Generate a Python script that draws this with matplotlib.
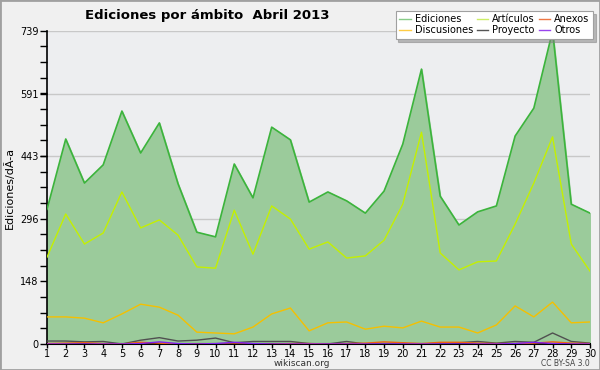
import numpy as np
from matplotlib import pyplot as plt
from matplotlib.ticker import AutoMinorLocator
from matplotlib.patches import Rectangle

days = list(range(1, 31))
ediciones = [318, 484, 380, 423, 550, 451, 522, 378, 264, 253, 425, 345, 512, 482, 335,
             359, 338, 309, 361, 472, 649, 349, 281, 312, 326, 491, 557, 739, 330, 309]
articulos = [205, 307, 236, 262, 359, 274, 293, 257, 182, 179, 316, 212, 326, 295, 224,
             241, 203, 208, 245, 330, 500, 215, 175, 194, 196, 283, 380, 489, 236, 172]
discusiones = [64, 64, 61, 50, 71, 94, 87, 68, 28, 26, 24, 40, 71, 85, 31,
               50, 52, 35, 42, 38, 54, 40, 40, 26, 45, 90, 64, 99, 50, 52]
proyecto = [7, 7, 5, 6, 0, 9, 15, 7, 9, 14, 3, 6, 6, 6, 1,
            0, 6, 0, 1, 1, 0, 2, 3, 6, 2, 6, 4, 26, 6, 2]
anexos = [1, 2, 3, 1, 0, 4, 2, 0, 0, 0, 0, 0, 0, 1, 1,
          0, 1, 2, 5, 3, 1, 4, 4, 2, 1, 1, 2, 5, 2, 1]
otros = [0, 0, 0, 0, 0, 1, 5, 1, 0, 1, 4, 1, 0, 0, 0,
         0, 0, 0, 0, 0, 0, 0, 0, 0, 0, 1, 4, 1, 0, 0]
yticks = [0, 148, 296, 443, 591, 739]

plt.rcParams['font.family'] = 'DejaVu Sans'
fig = plt.figure(figsize=(6, 3.7), dpi=100, facecolor="#f0f0f0")
fig.patches.append(Rectangle((0, 0), 1, 1, transform=fig.transFigure, fill=False,
                             edgecolor="#a0a0a0", linewidth=2))
ax = fig.add_axes([47 / 600, 26 / 370, 543 / 600, 313 / 370])
ax.set_facecolor("#edeef0")

ax.fill_between(days, ediciones, 0, color="#9bcb9b", zorder=2)
ax.plot(days, ediciones, color="#3cb43c", linewidth=1.2, zorder=3)
ax.plot(days, articulos, color="#c4f000", linewidth=1, zorder=3)
ax.plot(days, discusiones, color="#f5c000", linewidth=1, zorder=3)
ax.plot(days, proyecto, color="#505050", linewidth=1, zorder=3)
ax.plot(days, anexos, color="#f06010", linewidth=1, zorder=3)
ax.plot(days, otros, color="#8020f0", linewidth=1, zorder=3)

ax.set_xlim(1, 30)
ax.set_ylim(0, 739)
ax.set_xticks(days)
ax.set_yticks(yticks)
ax.yaxis.set_minor_locator(AutoMinorLocator(4))
ax.tick_params(axis="x", labelsize=7, length=3, width=1, pad=0.5)
ax.tick_params(axis="y", labelsize=7, length=5, width=1, pad=1)
ax.tick_params(axis="y", which="minor", length=5, width=1)
ax.grid(axis="y", color="#c8c8c8", linewidth=1, zorder=1)
ax.set_axisbelow(True)
for s in ["top", "right"]:
    ax.spines[s].set_visible(False)
ax.spines["left"].set_linewidth(1.2)
ax.spines["bottom"].set_linewidth(1.5)
ax.set_ylabel("Ediciones/dÃ-a", fontsize=8, labelpad=4)

fig.text(85 / 600, 1 - 15 / 370, "Ediciones por ámbito  Abril 2013", fontsize=9.5,
         fontweight="bold", va="center", ha="left")
fig.text(302 / 600, 1 - 363 / 370, "wikiscan.org", fontsize=6.5, ha="center", va="center",
         color="#333333")
fig.text(590 / 600, 1 - 363 / 370, "CC BY-SA 3.0", fontsize=5.5, ha="right", va="center",
         color="#444444")

# legend, column order fills down
handles = [
    plt.Line2D([], [], color="#88cc88", lw=1),
    plt.Line2D([], [], color="#ffcc44", lw=1),
    plt.Line2D([], [], color="#ccee66", lw=1),
    plt.Line2D([], [], color="#555555", lw=1),
    plt.Line2D([], [], color="#ee7744", lw=1),
    plt.Line2D([], [], color="#9944ee", lw=1),
]
labels = ["Ediciones", "Discusiones", "Artículos", "Proyecto", "Anexos", "Otros"]
leg = fig.legend(handles, labels, ncol=3, loc="upper right", bbox_to_anchor=(593 / 600, 1 - 11 / 370),
                 fontsize=7, frameon=True, fancybox=False, shadow={'color': '#808080'},
                 handlelength=1.2, handletextpad=0.4, columnspacing=0.4,
                 labelspacing=0.1, borderpad=0.35, borderaxespad=0)
leg.get_frame().set_edgecolor("#a0a0a0")
leg.get_frame().set_linewidth(0.8)

plt.savefig("out.png", dpi=100, facecolor=fig.get_facecolor())
